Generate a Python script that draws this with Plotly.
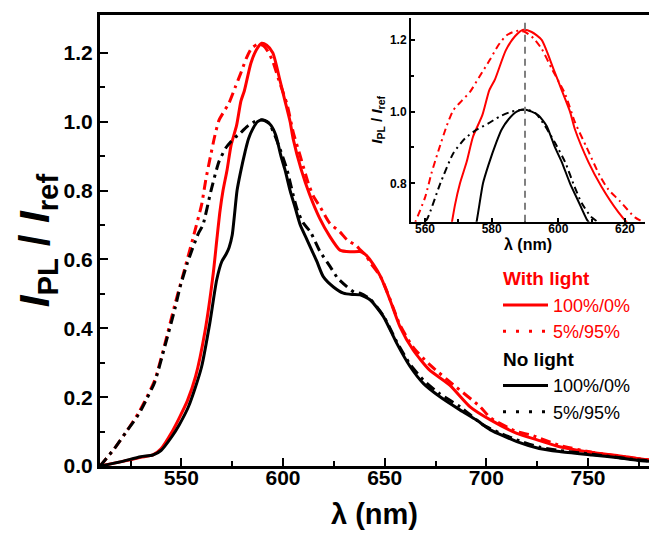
import plotly.graph_objects as go

# ---------------- data ----------------
wl_red_solid = [510, 520, 530, 536, 540, 545, 549, 553, 557, 561.6, 565.7, 567.5, 569, 570.5, 572.5,
                574.4, 577.2, 579.3, 581, 584.2, 587, 589.5, 592, 595, 598.5, 601, 603.5, 605, 609,
                613, 618, 623, 628, 633, 638, 641, 644.5, 648, 652.6, 657.5, 664, 672, 682, 692,
                702, 715, 725, 736, 752, 765, 774, 780]
int_red_solid = [0.0, 0.012, 0.025, 0.032, 0.05, 0.095, 0.14, 0.19, 0.26, 0.39, 0.56, 0.66, 0.74, 0.80, 0.86,
                 0.93, 0.99, 1.06, 1.09, 1.17, 1.21, 1.228, 1.222, 1.20, 1.12, 1.06, 1.0, 0.95, 0.86,
                 0.79, 0.72, 0.667, 0.627, 0.622, 0.623, 0.612, 0.585, 0.55, 0.483, 0.405, 0.337, 0.279, 0.235, 0.172,
                 0.134, 0.095, 0.076, 0.056, 0.039, 0.03, 0.022, 0.018]

wl_red_dd = [510, 517, 523, 529, 533, 537, 542, 547, 552, 557, 560, 562, 564, 566.5, 568.5, 571, 573.5,
             576.5, 579.5, 582, 584.5, 587.5, 590, 592.5, 595, 598, 602, 605, 608.5, 612.5, 615, 618.5,
             623, 628, 631.5, 636, 638, 641, 643, 648, 652.6, 657.5, 664, 672, 685, 697, 702, 715, 722,
             736, 752, 774, 780]
int_red_dd = [0.0, 0.05, 0.1, 0.155, 0.2, 0.25, 0.357, 0.473, 0.58, 0.69, 0.76, 0.83, 0.89, 0.96, 1.004, 1.03, 1.055,
              1.10, 1.145, 1.185, 1.213, 1.225, 1.222, 1.205, 1.175, 1.12, 1.05, 0.97, 0.9, 0.82, 0.783, 0.75,
              0.705, 0.68, 0.657, 0.64, 0.628, 0.61, 0.59, 0.55, 0.485, 0.41, 0.345, 0.295, 0.23, 0.172, 0.14, 0.1, 0.09,
              0.06, 0.04, 0.022, 0.018]

wl_black_solid = [510, 520, 530, 536, 540, 545.3, 549, 553.5, 557, 560, 564, 567.4, 569.9, 572, 573.5, 575,
                  577.4, 579, 581.4, 583, 585.2, 587.5, 589.6, 592, 594, 596.5, 599, 601, 603.5, 606, 608.5,
                  611.6, 613.5, 616.6, 619.8, 624.8, 629.7, 634, 637.9, 642.8, 649.4, 655.9, 662.5, 669,
                  677.2, 687, 695, 702, 715, 726, 736, 752, 765, 774, 780]
int_black_solid = [0.0, 0.012, 0.027, 0.032, 0.045, 0.085, 0.12, 0.172, 0.23, 0.289, 0.415, 0.541, 0.594, 0.615, 0.635, 0.67,
                   0.80, 0.85, 0.914, 0.95, 0.98, 1.0, 1.006, 1.0, 0.99, 0.96, 0.9, 0.86, 0.80, 0.75, 0.70,
                   0.66, 0.635, 0.595, 0.55, 0.52, 0.502, 0.498, 0.497, 0.483, 0.434, 0.357, 0.289, 0.24,
                   0.201, 0.163, 0.134, 0.105, 0.071, 0.051, 0.042, 0.032, 0.024, 0.017, 0.014]

wl_black_dd = [510, 517, 523, 529, 533, 537, 542, 547, 549.4, 553, 558.4, 560.6, 564.6, 568.5, 572, 575.4,
               579, 582.3, 586, 589.1, 591, 593.1, 596, 599, 602, 604.8, 607, 609.8, 613.5, 618, 623.2, 627,
               631.4, 635, 637.9, 642.8, 649.4, 656, 662.5, 669, 677, 687.1, 698.5, 707, 714.9, 726, 736,
               752, 774, 780]
int_black_dd = [0.0, 0.05, 0.1, 0.15, 0.195, 0.245, 0.35, 0.46, 0.52, 0.59, 0.676, 0.70, 0.80, 0.884, 0.925, 0.949,
                0.967, 0.986, 1.0, 1.005, 1.004, 0.996, 0.96, 0.913, 0.86, 0.792, 0.745, 0.707, 0.68, 0.625, 0.579, 0.545,
                0.521, 0.505, 0.502, 0.485, 0.436, 0.36, 0.295, 0.25, 0.21, 0.172, 0.119, 0.095, 0.076, 0.055, 0.045,
                0.034, 0.018, 0.015]

group_titles = ["With light", "No light"]
series_names = ["100%/0%", "5%/95%"]
peak_nm = 590

main_x_range = [510, 780]
main_y_range = [0, 1.31]
inset_x_range = [555.8, 626]
inset_y_range = [0.693, 1.261]

RED = "#ff0000"
BLACK = "#000000"
FONT = "Liberation Sans, Arial, sans-serif"
DD_MAIN = "10px,5px,3px,5px"
DD_INSET = "7px,4px,2px,4px"

curves = [
    (wl_red_solid, int_red_solid, RED, "solid"),
    (wl_red_dd, int_red_dd, RED, "dd"),
    (wl_black_solid, int_black_solid, BLACK, "solid"),
    (wl_black_dd, int_black_dd, BLACK, "dd"),
]

fig = go.Figure()

for xs, ys, col, sty in curves:
    fig.add_trace(go.Scatter(x=xs, y=ys, mode="lines", showlegend=False, hoverinfo="skip",
                             line=dict(color=col, width=3, shape="spline", smoothing=0.6,
                                       dash="solid" if sty == "solid" else DD_MAIN),
                             xaxis="x", yaxis="y"))
for xs, ys, col, sty in curves:
    fig.add_trace(go.Scatter(x=xs, y=ys, mode="lines", showlegend=False, hoverinfo="skip",
                             line=dict(color=col, width=2, shape="spline", smoothing=0.6,
                                       dash="solid" if sty == "solid" else DD_INSET),
                             xaxis="x2", yaxis="y2"))

# legend entries
for gi, (gt, col) in enumerate(zip(group_titles, [RED, BLACK])):
    for si, nm in enumerate(series_names):
        fig.add_trace(go.Scatter(
            x=[None], y=[None], mode="lines",
            name=f'<span style="color:{col}">{nm}</span>',
            legendgroup=gt,
            legendgrouptitle=dict(text=f"<b>{gt}</b>", font=dict(color=col, size=19, family=FONT)) if si == 0 else None,
            line=dict(color=col, width=3, dash="solid" if si == 0 else "3px,10px"),
            xaxis="x", yaxis="y"))

# dashed vertical guide in the inset
fig.add_shape(type="line", xref="x2", yref="y2 domain", x0=peak_nm, x1=peak_nm, y0=0, y1=1,
              line=dict(color="#808080", width=2, dash="7px,5px"))

axis_common = dict(showgrid=False, zeroline=False, linecolor="black", ticks="inside",
                   tickcolor="black", showline=True)

fig.update_layout(
    width=649, height=534,
    margin=dict(l=100, r=0, t=15, b=68),
    paper_bgcolor="white", plot_bgcolor="white",
    font=dict(family=FONT, color="black"),
    xaxis=dict(**axis_common, range=main_x_range, linewidth=3, mirror=True,
               tickvals=[550, 600, 650, 700, 750], ticklen=8, tickwidth=2, ticklabelstandoff=-9,
               minor=dict(tickvals=[525, 575, 625, 675, 725, 775], ticklen=5, tickwidth=2, ticks="inside"),
               tickfont=dict(size=21, family=FONT, weight="bold"),
               title=dict(text="<b>λ (nm)</b>", font=dict(size=29, family=FONT), standoff=16)),
    yaxis=dict(**axis_common, range=main_y_range, linewidth=3, mirror=False,
               tickvals=[0, 0.2, 0.4, 0.6, 0.8, 1.0, 1.2], tickformat=".1f", ticklen=8, tickwidth=2,
               minor=dict(tickvals=[0.1, 0.3, 0.5, 0.7, 0.9, 1.1], ticklen=5, tickwidth=2, ticks="inside"),
               tickfont=dict(size=21, family=FONT, weight="bold"),
               title=dict(text="<b><i>I</i><sub>PL</sub> / <i>I</i><sub>ref</sub></b>",
                          font=dict(size=42, family=FONT), standoff=0)),
    xaxis2=dict(**axis_common, range=inset_x_range, linewidth=2, anchor="y2",
                domain=[(411 - 100) / 549, (645 - 100) / 549],
                tickvals=[560, 580, 600, 620], ticklen=4, tickwidth=1.5, ticklabelstandoff=-5,
                minor=dict(tickvals=[570, 590, 610], ticklen=3, tickwidth=1.5, ticks="inside"),
                tickfont=dict(size=12, family=FONT, weight="bold"),
                title=dict(text="<b>λ (nm)</b>", font=dict(size=16, family=FONT), standoff=2)),
    yaxis2=dict(**axis_common, range=inset_y_range, linewidth=2, anchor="x2",
                domain=[(466 - 221.7) / 451, (466 - 18) / 451],
                tickvals=[0.8, 1.0, 1.2], tickformat=".1f", ticklen=4, tickwidth=1.5,
                minor=dict(tickvals=[0.9, 1.1], ticklen=3, tickwidth=1.5, ticks="inside"),
                tickfont=dict(size=12, family=FONT, weight="bold"),
                title=dict(text="<b><i>I</i><sub>PL</sub> / <i>I</i><sub>ref</sub></b>",
                           font=dict(size=15, family=FONT), standoff=4)),
    legend=dict(x=(498 - 100) / 549, y=(466 - 259) / 451, xanchor="left", yanchor="top",
                bgcolor="rgba(0,0,0,0)", font=dict(size=18, family=FONT),
                traceorder="grouped", tracegroupgap=0, itemwidth=45),
    showlegend=True,
)

fig.write_html("out.html")
